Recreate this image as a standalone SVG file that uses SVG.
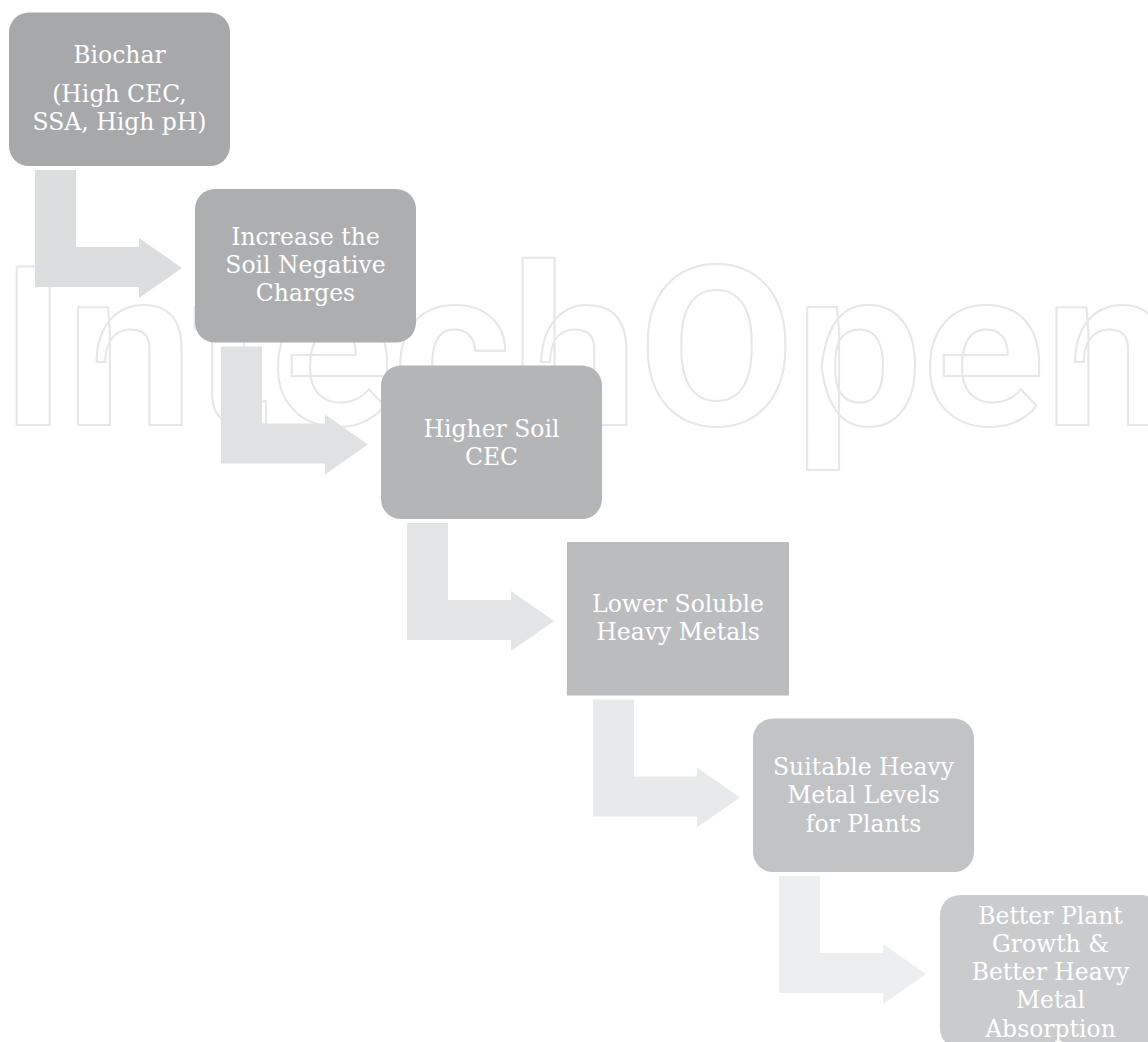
<svg xmlns="http://www.w3.org/2000/svg" width="1148" height="1042" viewBox="0 0 1148 1042">
  <style>
    .wm { font-family: Roboto, "DejaVu Sans", sans-serif; font-size: 222px; font-weight: 700; fill: none; stroke: #e7e7e7; stroke-width: 2; }
    .lbl { font-family: "DejaVu Serif", "Liberation Serif", serif; font-size: 23.5px; fill: #ffffff; text-anchor: middle; }
  </style>
  <defs>
    <path id="arrowShape" d="M35,170 H76 V247 H139 V238 L182,268 L139,298 V287 H35 Z"/>
  </defs>
  <rect x="0" y="0" width="1148" height="1042" fill="#ffffff"/>
  <text class="wm" x="0" y="425" textLength="1172" lengthAdjust="spacingAndGlyphs">IntechOpen</text>
  <g id="connectors">
    <use href="#arrowShape" fill="#dcdddf"/>
    <use href="#arrowShape" transform="translate(186,176.5)" fill="#e0e1e2"/>
    <use href="#arrowShape" transform="translate(372,353)" fill="#e3e4e5"/>
    <use href="#arrowShape" transform="translate(558,529.5)" fill="#e8e9ea"/>
    <use href="#arrowShape" transform="translate(744,706)" fill="#edeeef"/>
  </g>
  <g id="node1">
    <rect x="9" y="12.5" width="221" height="153.5" rx="20" fill="#a7a8aa"/>
    <text class="lbl" x="119.5" y="63">Biochar</text>
    <text class="lbl" x="119.5" y="102">(High CEC,</text>
    <text class="lbl" x="119.5" y="130">SSA, High pH)</text>
  </g>
  <g id="node2">
    <rect x="195" y="189" width="221" height="153.5" rx="20" fill="#adaeb0"/>
    <text class="lbl" x="305.5" y="245">Increase the</text>
    <text class="lbl" x="305.5" y="273">Soil Negative</text>
    <text class="lbl" x="305.5" y="301">Charges</text>
  </g>
  <g id="node3">
    <rect x="381" y="365.5" width="221" height="153.5" rx="20" fill="#b4b5b7"/>
    <text class="lbl" x="491.5" y="437">Higher Soil</text>
    <text class="lbl" x="491.5" y="465">CEC</text>
  </g>
  <g id="node4">
    <rect x="567" y="542" width="222" height="153.5" fill="#bbbcbe"/>
    <text class="lbl" x="678" y="612">Lower Soluble</text>
    <text class="lbl" x="678" y="640">Heavy Metals</text>
  </g>
  <g id="node5">
    <rect x="753" y="718.5" width="221" height="153.5" rx="20" fill="#c2c3c5"/>
    <text class="lbl" x="863.5" y="775">Suitable Heavy</text>
    <text class="lbl" x="863.5" y="803">Metal Levels</text>
    <text class="lbl" x="863.5" y="832">for Plants</text>
  </g>
  <g id="node6">
    <rect x="940" y="895" width="221" height="153.5" rx="20" fill="#cacbcc"/>
    <text class="lbl" x="1050.5" y="924">Better Plant</text>
    <text class="lbl" x="1050.5" y="952">Growth &amp;</text>
    <text class="lbl" x="1050.5" y="980">Better Heavy</text>
    <text class="lbl" x="1050.5" y="1008">Metal</text>
    <text class="lbl" x="1050.5" y="1037">Absorption</text>
  </g>
</svg>
